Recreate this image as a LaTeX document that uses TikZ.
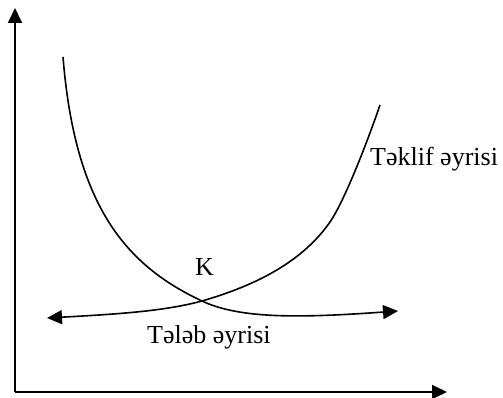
\documentclass[tikz,border=0pt]{standalone}
\usepackage{fontspec}
\setmainfont{Liberation Serif}
\usetikzlibrary{arrows.meta}
\begin{document}
\begin{tikzpicture}[x=1pt,y=-1pt,
  tip/.tip={Triangle[length=15pt,width=14pt]},
  axis/.style={line width=1.8pt,-tip},
  curve/.style={line width=1.6pt},
  lbl/.style={inner sep=0pt,anchor=base west,font=\fontsize{26}{30}\selectfont}]
\useasboundingbox (0,0) rectangle (503,398);
\coordinate (O) at (15,392);
\coordinate (ytop) at (15,8);
\coordinate (xend) at (447,392);
\coordinate (a1) at (63,57);
\coordinate (cross) at (202,301);
\coordinate (a2) at (398,311);
\coordinate (b1) at (47,318);
\coordinate (bm) at (330,222);
\coordinate (b2) at (380,105);
\draw[axis] (O) -- (ytop);
\draw[axis] (O) -- (xend);
\draw[curve,-tip] (a1) .. controls (75,205) and (125,265) .. (cross)
  .. controls (240,319) and (300,318) .. (a2);
\draw[curve,tip-] (b1) .. controls (120,314) and (165,311) .. (cross)
  .. controls (250,287) and (300,265) .. (bm)
  .. controls (345,200) and (368,140) .. (b2);
\node[lbl] (teklif) at (370,166) {Təklif əyrisi};
\node[lbl] (k) at (195,275) {K};
\node[lbl] (teleb) at (147,343) {Tələb əyrisi};
\end{tikzpicture}
\end{document}
